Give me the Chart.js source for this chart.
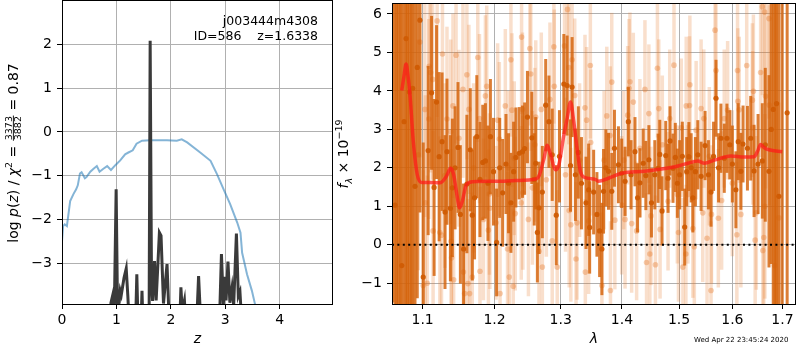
<!DOCTYPE html>
<html>
<head>
<meta charset="utf-8">
<script src="https://cdn.jsdelivr.net/npm/chart.js@4.4.0/dist/chart.umd.min.js"></script>
<style>
  body { margin: 0; background: #fff; }
  #wrap { position: relative; width: 800px; height: 350px; }
  #left { position: absolute; left: 0; top: 0; }
  #right { position: absolute; left: 320px; top: 0; }
</style>
</head>
<body>
<div id="wrap">
  <canvas id="left" width="340" height="350"></canvas>
  <canvas id="right" width="480" height="350"></canvas>
</div>
<script>
/* ================================
   DATA - left panel, log p(z)
================================ */

const chiZ   = [0, 0.02, 0.05, 0.09, 0.15, 0.21, 0.26, 0.29, 0.33, 0.36, 0.42, 0.45, 0.52, 0.58, 0.64, 0.69, 0.76, 0.83, 0.90, 0.98, 1.07, 1.16, 1.22, 1.30, 1.37, 1.47, 1.62, 1.93, 2.11, 2.20, 2.30, 2.54, 2.73, 2.85, 2.97, 3.09, 3.22, 3.28, 3.31, 3.40, 3.49, 3.55, 3.60];
const chiLog = [-2.5, -2.15, -2.11, -2.15, -1.58, -1.42, -1.31, -1.22, -0.95, -0.92, -1.06, -1.03, -0.91, -0.84, -0.78, -0.91, -0.84, -0.78, -0.87, -0.76, -0.65, -0.51, -0.47, -0.42, -0.27, -0.20, -0.19, -0.19, -0.20, -0.17, -0.24, -0.47, -0.66, -0.97, -1.31, -1.65, -2.07, -2.30, -2.76, -3.25, -3.63, -3.95, -4.3];

const pzZ   = [0, 0.86, 0.90, 0.93, 0.96, 0.995, 1.02, 1.05, 1.07, 1.09, 1.14, 1.18, 1.21, 1.24, 1.35, 1.375, 1.40, 1.45, 1.47, 1.49, 1.60, 1.62, 1.645, 1.665, 1.70, 1.73, 1.79, 1.82, 1.865, 1.93, 1.975, 2.16, 2.185, 2.21, 2.25, 2.28, 2.47, 2.51, 2.555, 2.89, 2.93, 2.965, 2.99, 3.015, 3.05, 3.085, 3.125, 3.155, 3.205, 3.24, 3.27, 3.31, 4.98];
const pzLog = [-12, -5, -3.9, -3.74, -4.2, -1.31, -4.0, -3.9, -3.63, -3.72, -3.33, -3.12, -3.75, -4.5, -4.5, -3.25, -4.5, -4.5, -3.63, -4.5, -4.5, 2.08, -3.5, -3.86, -2.95, -3.85, -2.30, -2.37, -3.92, -3.02, -4.5, -4.5, -3.55, -4.1, -3.85, -4.5, -4.5, -3.29, -4.5, -4.5, -2.79, -3.95, -3.31, -3.85, -2.96, -3.9, -3.55, -3.95, -2.32, -3.75, -3.65, -4.5, -12];

const pzTicksX = [0, 1, 2, 3, 4];
const pzTicksY = [-3, -2, -1, 0, 1, 2];

/* ================================
   DATA - right panel, spectrum
================================ */

const darkLam = [1.0612, 1.0640, 1.0660, 1.0682, 1.0705, 1.0726, 1.0756, 1.0782, 1.0800, 1.0825, 1.0848, 1.0869, 1.0899, 1.0929, 1.0964, 1.1008,
  1.1074, 1.1120, 1.1154, 1.1187, 1.1222, 1.1262, 1.1302, 1.1329, 1.1376, 1.1403, 1.1440, 1.1481, 1.1514, 1.1559, 1.1605, 1.1653, 1.1681, 1.1713, 1.1745, 1.1790, 1.1830, 1.1868, 1.1905, 1.1940, 1.1985,
  1.2030, 1.2075, 1.2118, 1.2167, 1.2205, 1.2240, 1.2280, 1.2314, 1.2363, 1.2412, 1.2445, 1.2487, 1.2553, 1.2590, 1.2613, 1.2638, 1.2663, 1.2714, 1.2766, 1.2816, 1.2867, 1.2930, 1.2980,
  1.3049, 1.3101, 1.3155, 1.3180, 1.3233, 1.3280, 1.3330, 1.3404, 1.3447, 1.3463, 1.3528, 1.3582, 1.3626, 1.3664, 1.3691, 1.3730, 1.3773, 1.3828, 1.3873, 1.3940, 1.3995,
  1.4052, 1.4108, 1.4154, 1.4222, 1.4266, 1.4307, 1.4364, 1.4410, 1.4463, 1.4508, 1.4567, 1.4625, 1.4655, 1.4695, 1.4761, 1.4802, 1.4838, 1.4891, 1.4933, 1.4970,
  1.5012, 1.5060, 1.5103, 1.5140, 1.5180, 1.5222, 1.5253, 1.5300, 1.5345, 1.5406, 1.5480, 1.5543, 1.5592, 1.5640, 1.5686, 1.5735, 1.5780, 1.5844, 1.5895, 1.5950,
  1.6000, 1.6068, 1.6114, 1.6165, 1.6208, 1.6294, 1.6359, 1.6425, 1.6505, 1.6590, 1.6650, 1.6724, 1.6770, 1.6811, 1.6850, 1.6878, 1.6926, 1.6994, 1.7096];
const darkFlux = [7.5, 1.03, -2.5, -2.0, 7.0, -0.54, 3.20, 5.36, -2.2, 3.97, 7.2, 4.07, 1.52, 4.61, 5.84, -0.84,
  2.45, 3.95, 1.49, 3.71, 2.29, 2.68, 0.85, 2.42, 0.95, 1.48, 2.00, 2.53, 0.79, -0.11, 1.58, 2.47, 0.77, 1.22, 2.81, 1.70, 2.14, 2.18, 1.60, 2.81, 1.90,
  0.06, 2.00, 1.35, 2.10, 1.60, 1.09, 1.90, 2.27, 2.38, 2.42, 2.50, 3.32, 2.78, 1.70, 2.12, 0.32, 0.96, 1.37, 3.63, 3.20, 2.34, 0.77, 2.30,
  4.18, 4.14, 2.06, 4.10, 1.82, 2.40, 1.60, 1.09, 1.43, 0.45, 1.37, 0.79, 0.36, -0.11, 1.39, 2.00, 1.91, 1.39, 2.51, 2.08, 1.86,
  1.65, 3.20, 1.82, 2.42, 1.22, 1.61, 2.12, 1.80, 2.21, 1.09, 1.82, 1.99, 2.35, 0.88, 2.32, 1.73, 2.70, 1.99, 2.27, 1.60,
  1.82, 2.30, 0.46, 1.90, 2.29, 2.00, 1.22, 1.90, 2.34, 1.78, 2.58, 1.82, 1.37, 2.30, 3.81, 2.00, 2.77, 2.25, 2.77, 2.60,
  2.10, 1.43, 2.68, 1.91, 2.62, 2.51, 2.77, 1.92, 2.10, 2.18, 2.60, 1.91, 3.00, 3.52, -2.0, 3.67, 1.26, 7.0, 3.43];
const darkErr = [9, 8, 9, 9, 9, 8, 8, 7, 9, 7, 9, 6, 6, 6, 5, 3.5,
  2.2, 2.0, 2.3, 2.0, 2.2, 1.8, 2.0, 1.9, 1.9, 1.8, 1.6, 1.7, 1.8, 1.7, 1.8, 1.6, 1.7, 1.6, 1.6, 1.5, 1.5, 1.5, 1.5, 1.5, 1.4,
  1.4, 1.3, 1.4, 1.3, 1.3, 1.3, 1.3, 1.3, 1.2, 1.2, 1.2, 1.2, 1.2, 1.2, 1.2, 1.3, 1.2, 1.2, 1.2, 1.2, 1.2, 1.3, 1.2,
  1.3, 1.3, 1.2, 1.3, 1.2, 1.2, 1.2, 1.2, 1.2, 1.2, 1.1, 1.1, 1.2, 1.2, 1.1, 1.0, 1.0, 1.0, 1.0, 1.0, 0.9,
  0.9, 0.9, 0.9, 0.9, 0.9, 0.9, 0.9, 0.9, 0.9, 0.9, 0.9, 0.9, 0.9, 0.9, 0.9, 0.9, 0.9, 0.9, 0.9, 0.9,
  0.9, 0.9, 1.0, 0.9, 0.9, 0.9, 0.9, 0.9, 0.9, 0.9, 0.9, 0.9, 0.9, 0.9, 1.0, 0.9, 0.9, 0.9, 0.9, 0.9,
  1.0, 1.0, 1.0, 1.0, 1.0, 1.1, 1.1, 1.2, 1.3, 1.5, 2.0, 2.5, 3.5, 6, 9, 8, 8, 9, 9];

const lightLam = [1.0942, 1.0964, 1.1008, 1.1030, 1.1036, 1.1062, 1.1082, 1.1088, 1.1107, 1.1134, 1.1140, 1.1195, 1.1231, 1.1254, 1.1267, 1.1300, 1.1329, 1.1380, 1.1386, 1.1392, 1.1411, 1.1421, 1.1454, 1.1494,
  1.1550, 1.1556, 1.1573, 1.1605, 1.1619, 1.1633, 1.1643, 1.1681, 1.1700, 1.1759, 1.1783, 1.1790, 1.1840, 1.1868, 1.1887, 1.1911, 1.1926, 1.1932,
  1.2022, 1.2045, 1.2070, 1.2080, 1.2157, 1.2190, 1.2200, 1.2215, 1.2240, 1.2255, 1.2274, 1.2289, 1.2304, 1.2394, 1.2399, 1.2412, 1.2418, 1.2502, 1.2523, 1.2538, 1.2563, 1.2600,
  1.2613, 1.2663, 1.2698, 1.2714, 1.2776, 1.2832, 1.2867, 1.2893, 1.2899, 1.2945, 1.3060, 1.3076, 1.3107, 1.3128, 1.3134, 1.3160, 1.3180, 1.3222, 1.3243, 1.3259, 1.3300,
  1.3387, 1.3393, 1.3414, 1.3447, 1.3474, 1.3480, 1.3664, 1.3700, 1.3745, 1.3801, 1.3806, 1.3828, 1.3880, 1.3995, 1.4030, 1.4052, 1.4097, 1.4120, 1.4135, 1.4165, 1.4193, 1.4250,
  1.4307, 1.4394, 1.4422, 1.4463, 1.4480, 1.4500, 1.4578, 1.4613, 1.4637, 1.4660, 1.4700, 1.4802, 1.4832, 1.4909, 1.4969, 1.4990, 1.5041, 1.5071, 1.5125, 1.5131, 1.5162, 1.5192, 1.5198,
  1.5253, 1.5280, 1.5314, 1.5406, 1.5437, 1.5456, 1.5517, 1.5560, 1.5592, 1.5600, 1.5668, 1.5686, 1.5731, 1.5793, 1.5844, 1.5908, 1.6000, 1.6087, 1.6100, 1.6106, 1.6133, 1.6165,
  1.6280, 1.6392, 1.6398, 1.6412, 1.6447, 1.6470, 1.6556, 1.6590, 1.6600, 1.6620, 1.6636, 1.6642, 1.6656, 1.6724, 1.6730, 1.6837, 1.6926];
const lightFlux = [2.34, 5.27, -1.06, 3.52, 1.09, -1.00, 3.27, 4.64, 4.48, 4.30, 0.36, 5.82, 0.32, 0.25, 4.96, 1.80, 3.27, 2.94, 0.09, -0.34, 3.61, -0.91, 4.93, 2.77,
  4.04, -0.71, -1.27, 4.42, -1.01, 3.52, -1.27, -0.84, 2.00, 4.87, 3.28, -0.69, 0.66, 3.87, 4.12, 0.38, 1.32, 0.95,
  0.57, 3.24, 2.75, -1.27, 3.61, -0.11, 2.00, -0.84, 4.81, 3.50, -1.08, 2.25, 0.81, 1.09, 5.40, 3.52, 1.35, 0.66, 5.10, 4.44, 1.48, 2.60,
  3.32, -0.17, 3.52, -0.58, 1.69, 3.78, 0.10, 5.15, 4.12, -0.58, 5.17, 1.82, 6.12, 4.61, 0.89, 0.52, 4.81, 3.88, -0.37, 0.57, 2.20,
  3.56, -0.71, 3.24, 0.62, 4.66, 2.66, -1.06, 2.20, 3.35, 2.84, -1.19, 4.23, 0.64, 1.03, 2.20, 0.66, 3.37, 4.07, 4.24, 0.55, 3.71, 0.36,
  2.51, 4.04, -0.46, 3.41, -0.24, 0.75, -0.52, 4.59, 3.54, 0.40, 2.60, 1.13, 3.28, 4.67, 1.31, 0.32, 3.04, -0.58, -0.24, 3.61, 1.31, 3.62, 4.16,
  0.42, -0.05, 2.98, 3.54, 0.83, 3.28, 0.17, 2.30, -1.19, 0.79, 5.58, 4.53, 0.69, 1.15, 3.28, 3.50, 1.60, 0.26, 4.53, 3.73, 3.51, 0.79,
  4.66, 3.76, 3.04, 3.99, 0.12, 0.83, 4.48, 6.19, -0.15, 0.19, 6.05, 1.00, 3.86, 5.88, 3.63, -0.54, 0.70];
const lightErr = [3.0, 3.0, 3.0, 2.8, 2.8, 2.8, 2.6, 2.6, 2.6, 2.6, 2.6, 2.5, 2.5, 2.5, 2.5, 2.4, 2.4, 2.4, 2.4, 2.4, 2.4, 2.4, 2.3, 2.3,
  2.3, 2.3, 2.3, 2.2, 2.2, 2.2, 2.2, 2.2, 2.2, 2.2, 2.2, 2.2, 2.1, 2.1, 2.1, 2.1, 2.1, 2.1,
  2.0, 2.0, 2.0, 2.0, 2.0, 2.0, 2.0, 2.0, 2.0, 2.0, 2.0, 2.0, 2.0, 2.0, 2.0, 2.0, 2.0, 2.0, 2.0, 2.0, 2.0, 2.0,
  2.0, 2.0, 2.0, 2.0, 2.0, 2.0, 2.0, 2.0, 2.0, 2.0, 2.0, 2.0, 2.0, 2.0, 2.0, 2.0, 2.0, 2.0, 2.0, 2.0, 2.0,
  1.9, 1.9, 1.9, 1.9, 1.9, 1.9, 1.9, 1.8, 1.8, 1.8, 1.8, 1.8, 1.8, 1.8, 1.8, 1.8, 1.8, 1.8, 1.8, 1.8, 1.8, 1.8,
  1.8, 1.8, 1.8, 1.8, 1.8, 1.8, 1.8, 1.8, 1.8, 1.8, 1.8, 1.8, 1.8, 1.8, 1.8, 1.8, 1.8, 1.8, 1.8, 1.8, 1.8, 1.8, 1.8,
  1.8, 1.8, 1.8, 1.8, 1.8, 1.8, 1.8, 1.8, 1.8, 1.8, 1.8, 1.8, 1.8, 1.8, 1.8, 1.8, 1.9, 1.9, 1.9, 1.9, 1.9, 1.9,
  2.0, 2.0, 2.0, 2.0, 2.0, 2.0, 2.2, 2.3, 2.3, 2.3, 2.4, 2.4, 2.4, 2.6, 2.6, 3.0, 3.0];

const fitLam  = [1.0726, 1.0756, 1.0782, 1.0804, 1.0834, 1.0877, 1.0929, 1.0987, 1.1097, 1.1231, 1.1321, 1.1380, 1.1421, 1.1458, 1.1504, 1.1541, 1.1597, 1.1689, 1.2022, 1.2314, 1.2614, 1.2663, 1.2740, 1.2790, 1.2842, 1.2919, 1.2971, 1.3049, 1.3101, 1.3155, 1.3207, 1.3259, 1.3313, 1.3366, 1.3556, 1.3609, 1.3773, 1.3995, 1.4394, 1.4683, 1.4981, 1.5162, 1.5345, 1.5468, 1.5656, 1.5971, 1.6230, 1.6426, 1.6491, 1.6556, 1.6623, 1.6724, 1.6994];
const fitFlux = [4.01, 4.40, 4.70, 4.45, 3.88, 2.68, 1.82, 1.62, 1.62, 1.61, 1.78, 1.99, 1.82, 1.39, 0.96, 1.13, 1.56, 1.64, 1.65, 1.67, 1.71, 1.79, 2.25, 2.59, 2.34, 1.95, 2.08, 2.85, 3.28, 3.71, 3.20, 2.51, 1.91, 1.76, 1.70, 1.65, 1.73, 1.86, 1.91, 1.97, 2.05, 2.12, 2.18, 2.12, 2.20, 2.31, 2.28, 2.29, 2.42, 2.61, 2.53, 2.47, 2.42];

const zeroLam  = [1.06, 1.728];
const zeroFlux = [0, 0];

const specTicksX = [1.1, 1.2, 1.3, 1.4, 1.5, 1.6, 1.7];
const specTicksY = [-1, 0, 1, 2, 3, 4, 5, 6];

/* ================================
   HELPERS
================================ */

Chart.defaults.font.family = '"DejaVu Sans", sans-serif';
Chart.defaults.color = '#000';

const minus = v => (v < 0 ? '\u2212' + Math.abs(v) : String(v));
const pts = (xs, ys) => xs.map((x, i) => ({ x: x, y: ys[i] }));
const bars = (xs, ys, es) => xs.map((x, i) => ({ x: x, y: [ys[i] - es[i], ys[i] + es[i]] }));

function pinTicks(list) {
  return scale => { scale.ticks = list.map(v => ({ value: v })); };
}
function pinSize(prop, size) {
  return scale => {
    scale[prop] = size;
    scale.paddingTop = 0; scale.paddingBottom = 0;
    scale.paddingLeft = 0; scale.paddingRight = 0;
  };
}

const gridStyle = { color: '#b0b0b0', lineWidth: 1, tickColor: '#000', tickLength: 5, tickWidth: 1, offset: false };

// rotated label with sub/superscripts and a small fraction
function drawRich(ctx, cx, cy, parts) {
  ctx.save();
  ctx.translate(cx, cy);
  ctx.rotate(-Math.PI / 2);
  ctx.fillStyle = '#000';
  ctx.textBaseline = 'alphabetic';
  const widths = parts.map(p => {
    ctx.font = p.font;
    if (p.num) return Math.max(ctx.measureText(p.num).width, ctx.measureText(p.den).width) + 2;
    return ctx.measureText(p.text).width;
  });
  let x = -widths.reduce((a, b) => a + b, 0) / 2;
  parts.forEach((p, i) => {
    ctx.font = p.font;
    if (p.num) {
      ctx.textAlign = 'center';
      ctx.fillText(p.num, x + widths[i] / 2, -6);
      ctx.fillText(p.den, x + widths[i] / 2, 3.4);
      ctx.fillRect(x + 0.5, -5.1, widths[i] - 1, 0.9);
    } else {
      ctx.textAlign = 'left';
      ctx.fillText(p.text, x, p.dy || 0);
    }
    x += widths[i];
  });
  ctx.restore();
}

function frame(chart) {
  const a = chart.chartArea, ctx = chart.ctx;
  ctx.save();
  ctx.strokeStyle = '#000';
  ctx.lineWidth = 1;
  ctx.strokeRect(Math.round(a.left) + 0.5, Math.round(a.top) - 0.5, Math.round(a.right - a.left) - 1, Math.round(a.bottom - a.top) + 1);
  ctx.restore();
}

const F14 = '14px "DejaVu Sans"', I14 = 'italic 14px "DejaVu Sans"';
const F10 = '9.5px "DejaVu Sans"', I10 = 'italic 9.5px "DejaVu Sans"';

/* ================================
   LEFT - p(z)
================================ */

new Chart(document.getElementById('left'), {
  type: 'scatter',
  data: {
    datasets: [
      { data: pts(pzZ, pzLog), showLine: true, borderColor: '#3a3a3a', borderWidth: 3, pointRadius: 0, order: 0 },
      { data: pts(chiZ, chiLog), showLine: true, borderColor: 'rgba(31,119,180,0.55)', borderWidth: 2, pointRadius: 0, order: 1 }
    ]
  },
  options: {
    responsive: false,
    animation: false,
    events: [],
    layout: { padding: { left: 0, right: 7, top: 1, bottom: 0 } },
    plugins: { legend: { display: false }, tooltip: { enabled: false } },
    scales: {
      x: {
        type: 'linear', min: 0, max: 4.98,
        afterBuildTicks: pinTicks(pzTicksX), afterFit: pinSize('height', 46),
        grid: gridStyle, border: { display: false },
        ticks: { font: { size: 14 }, padding: 3, callback: minus, maxRotation: 0 },
        title: { display: true, text: 'z', font: { size: 14, style: 'italic' }, padding: { top: 0, bottom: 2 } }
      },
      y: {
        type: 'linear', min: -3.93, max: 2.99,
        afterBuildTicks: pinTicks(pzTicksY), afterFit: pinSize('width', 62),
        grid: gridStyle, border: { display: false },
        ticks: { font: { size: 14 }, padding: 5, callback: minus }
      }
    }
  },
  plugins: [{
    id: 'pzDecor',
    afterDraw(chart) {
      const ctx = chart.ctx;
      frame(chart);
      ctx.save();
      ctx.fillStyle = '#000';
      ctx.font = '12.5px "DejaVu Sans"';
      ctx.textAlign = 'right';
      ctx.fillText('j003444m4308', 318, 25);
      ctx.fillText('ID=586    z=1.6338', 318, 39.5);
      ctx.restore();
      drawRich(ctx, 18, 153, [
        { text: 'log ', font: F14 }, { text: 'p', font: I14 }, { text: '(', font: F14 }, { text: 'z', font: I14 },
        { text: ') / ', font: F14 }, { text: '\u03c7', font: I14 }, { text: '2', font: F10, dy: -6 },
        { text: ' = ', font: F14 }, { num: '3373', den: '3882', font: F10 }, { text: ' = 0.87', font: F14 }
      ]);
    }
  }]
});

/* ================================
   RIGHT - spectrum
================================ */

new Chart(document.getElementById('right'), {
  type: 'bar',
  data: {
    datasets: [
      { type: 'line', data: pts(zeroLam, zeroFlux), borderColor: '#000', borderWidth: 2, borderDash: [2, 3.4], pointRadius: 0, order: 0 },
      { type: 'line', data: pts(fitLam, fitFlux), borderColor: 'rgba(255,25,25,0.72)', borderWidth: 3.5, pointRadius: 0, cubicInterpolationMode: 'monotone', order: 1 },
      { type: 'scatter', data: pts(darkLam, darkFlux), backgroundColor: 'rgba(208,92,4,0.95)', borderWidth: 0, pointRadius: 2.6, order: 2 },
      { type: 'bar', data: bars(darkLam, darkFlux, darkErr), backgroundColor: 'rgba(212,98,8,0.82)', borderWidth: 0, barThickness: 3, grouped: false, inflateAmount: 0, order: 3 },
      { type: 'scatter', data: pts(lightLam, lightFlux), backgroundColor: 'rgba(230,120,40,0.36)', borderWidth: 0, pointRadius: 2.8, order: 4 },
      { type: 'bar', data: bars(lightLam, lightFlux, lightErr), backgroundColor: 'rgba(230,120,40,0.24)', borderWidth: 0, barThickness: 3.5, grouped: false, inflateAmount: 0, order: 5 }
    ]
  },
  options: {
    responsive: false,
    animation: false,
    events: [],
    layout: { padding: { left: 0, right: 1, top: 1, bottom: 0 } },
    plugins: { legend: { display: false }, tooltip: { enabled: false } },
    scales: {
      x: {
        type: 'logarithmic', min: 1.06, max: 1.728, offset: false, z: 1,
        afterBuildTicks: pinTicks(specTicksX), afterFit: pinSize('height', 46),
        grid: gridStyle, border: { display: false },
        ticks: { font: { size: 14 }, padding: 3, callback: v => v.toFixed(1), maxRotation: 0, autoSkip: false },
        title: { display: true, text: '\u03bb', font: { size: 14, style: 'italic' }, padding: { top: 0, bottom: 2 } }
      },
      y: {
        type: 'linear', min: -1.54, max: 6.26, z: 1,
        afterBuildTicks: pinTicks(specTicksY), afterFit: pinSize('width', 72),
        grid: gridStyle, border: { display: false },
        ticks: { font: { size: 14 }, padding: 5, callback: minus }
      }
    }
  },
  plugins: [{
    id: 'specDecor',
    afterDraw(chart) {
      const ctx = chart.ctx;
      frame(chart);
      drawRich(ctx, 28, 154, [
        { text: 'f', font: I14 }, { text: '\u03bb', font: I10, dy: 3.5 },
        { text: ' \u00d7 10', font: F14 }, { text: '\u221219', font: F10, dy: -6 }
      ]);
      ctx.save();
      ctx.fillStyle = '#000';
      ctx.font = '7px "DejaVu Sans"';
      ctx.textAlign = 'left';
      ctx.fillText('Wed Apr 22 23:45:24 2020', 374, 342);
      ctx.restore();
    }
  }]
});
</script>
</body>
</html>
